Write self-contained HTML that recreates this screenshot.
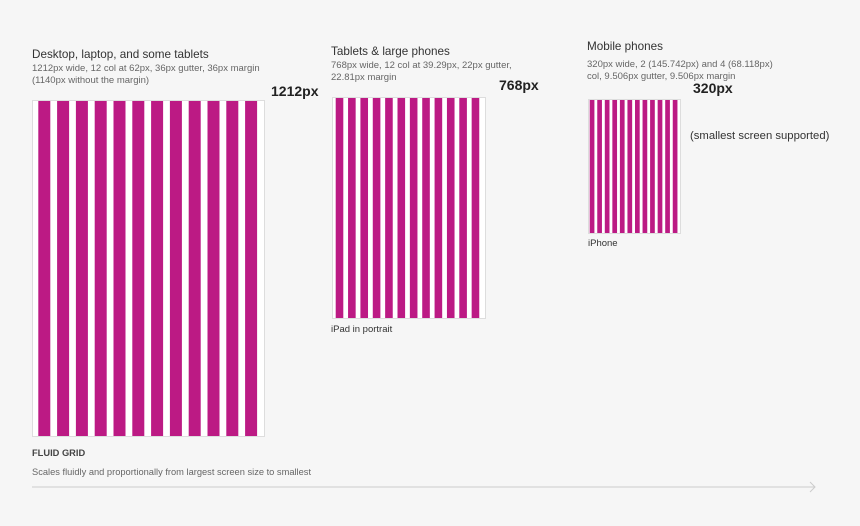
<!DOCTYPE html>
<html><head><meta charset="utf-8"><style>
body{margin:0;width:860px;height:526px;background:#f6f6f6;font-family:"Liberation Sans",Arial,sans-serif;position:relative;overflow:hidden}
.t{position:absolute;white-space:nowrap;color:#333}
.h{font-size:11.7px;color:#333}
.s{font-size:9.5px;color:#666;line-height:12px}
.b{font-size:14px;font-weight:bold;color:#222}
</style></head><body>
<div class="t h" style="left:32px;top:48px">Desktop, laptop, and some tablets</div>
<div class="t s" style="left:32px;top:63px">1212px wide, 12 col at 62px, 36px gutter, 36px margin<br>(1140px without the margin)</div>
<div class="t b" style="left:271px;top:83px">1212px</div>
<div class="t h" style="left:331px;top:45px">Tablets &amp; large phones</div>
<div class="t s" style="left:331px;top:60px">768px wide, 12 col at 39.29px, 22px gutter,<br>22.81px margin</div>
<div class="t b" style="left:499px;top:77px">768px</div>
<div class="t s" style="left:331px;top:324px;color:#333">iPad in portrait</div>
<div class="t h" style="left:587px;top:40px">Mobile phones</div>
<div class="t s" style="left:587px;top:59px">320px wide, 2 (145.742px) and 4 (68.118px)<br>col, 9.506px gutter, 9.506px margin</div>
<div class="t b" style="left:693px;top:80px">320px</div>
<div class="t" style="left:690px;top:130px;font-size:11.3px">(smallest screen supported)</div>
<div class="t s" style="left:588px;top:238px;color:#333">iPhone</div>
<div class="t" style="left:32px;top:448px;font-size:9.3px;font-weight:bold;color:#444">FLUID GRID</div>
<div class="t s" style="left:32px;top:466px;font-size:9.3px">Scales fluidly and proportionally from largest screen size to smallest</div>
<svg width="860" height="526" style="position:absolute;left:0;top:0" id="g">
<line x1="32" y1="487" x2="815" y2="487" stroke="#ccc" stroke-width="1"/>
<polyline points="810,482 815,487 810,492" fill="none" stroke="#ccc"/>
</svg>
<script>
const panelNames=['desktop','tablet','mobile'];
const columnCounts=[12,12,12];
const frames=[[32,100,232,336],[332,97,153,221],[588,99,92,134]];
const colStart=[38.3,335.7,589.7];
const colWidth=[12,7.6,4.7];
const colPitch=[18.8,12.36,7.55];
const svg=document.getElementById('g');
const NS='http://www.w3.org/2000/svg';
panelNames.forEach((n,i)=>{
  const f=frames[i];
  const r=document.createElementNS(NS,'rect');
  r.setAttribute('x',f[0]+0.5);r.setAttribute('y',f[1]+0.5);r.setAttribute('width',f[2]);r.setAttribute('height',f[3]);
  r.setAttribute('fill','#fff');r.setAttribute('stroke','#ddd');
  
  
  svg.appendChild(r);
  for(let c=0;c<columnCounts[i];c++){
    const b=document.createElementNS(NS,'rect');
    b.setAttribute('x',colStart[i]+c*colPitch[i]);b.setAttribute('y',f[1]+1);
    b.setAttribute('width',colWidth[i]);b.setAttribute('height',f[3]-1);
    b.setAttribute('fill','#bc1a84');
    
    
    svg.appendChild(b);
  }
});
</script>
</body></html>
